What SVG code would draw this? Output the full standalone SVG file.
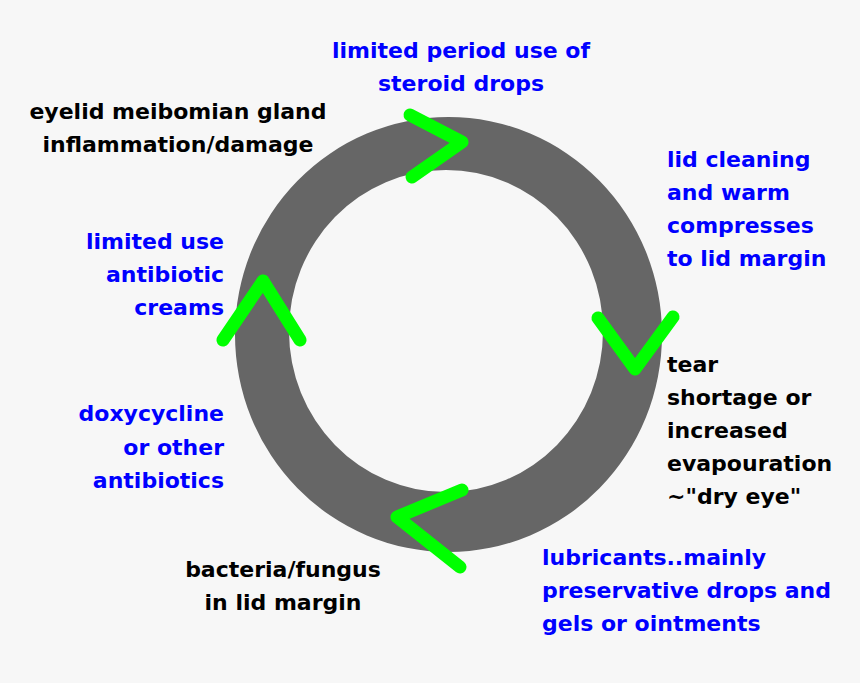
<svg xmlns="http://www.w3.org/2000/svg" width="860" height="683" viewBox="0 0 860 683">
<style>
text{font-family:"DejaVu Sans",Verdana,sans-serif;font-weight:bold;font-size:22px}
.b{fill:#0000ff}
.k{fill:#000000}
.m{text-anchor:middle}
.e{text-anchor:end}
.arrow{fill:none;stroke:#00ff00;stroke-width:13;stroke-linecap:round;stroke-linejoin:round}
</style>
<rect width="860" height="683" fill="#f7f7f7"/>
<g id="cycle-ring">
<path fill="#666666" fill-rule="evenodd" d="M235,334.5 A213.5,217.5 0 1,0 662,334.5 A213.5,217.5 0 1,0 235,334.5 Z M289,331 A157,161 0 1,0 603,331 A157,161 0 1,0 289,331 Z"/>
</g>
<g id="connectors">
<polyline class="arrow" points="410,115 462,142 412,177"/>
<polyline class="arrow" points="598,318 635,369 673,317"/>
<polyline class="arrow" points="462,490 397,517 460,567"/>
<polyline class="arrow" points="223,340 263,281 300,340"/>
</g>
<g id="steroid-drops">
<text class="b m" x="461" y="58">limited period use of</text>
<text class="b m" x="461" y="91">steroid drops</text>
</g>
<g id="meibomian-gland">
<text class="k m" x="178" y="119">eyelid meibomian gland</text>
<text class="k m" x="178" y="152">inflammation/damage</text>
</g>
<g id="lid-cleaning">
<text class="b" x="667" y="167">lid cleaning</text>
<text class="b" x="667" y="200">and warm</text>
<text class="b" x="667" y="233">compresses</text>
<text class="b" x="667" y="266">to lid margin</text>
</g>
<g id="antibiotic-creams">
<text class="b e" x="224" y="249">limited use</text>
<text class="b e" x="224" y="282">antibiotic</text>
<text class="b e" x="224" y="315">creams</text>
</g>
<g id="dry-eye">
<text class="k" x="667" y="372">tear</text>
<text class="k" x="667" y="405">shortage or</text>
<text class="k" x="667" y="438">increased</text>
<text class="k" x="667" y="471">evapouration</text>
<text class="k" x="667" y="504">~"dry eye"</text>
</g>
<g id="doxycycline">
<text class="b e" x="224" y="421">doxycycline</text>
<text class="b e" x="224" y="455">or other</text>
<text class="b e" x="224" y="488">antibiotics</text>
</g>
<g id="bacteria">
<text class="k m" x="283" y="577">bacteria/fungus</text>
<text class="k m" x="283" y="610">in lid margin</text>
</g>
<g id="lubricants">
<text class="b" x="542" y="565">lubricants..mainly</text>
<text class="b" x="542" y="598">preservative drops and</text>
<text class="b" x="542" y="631">gels or ointments</text>
</g>
</svg>
